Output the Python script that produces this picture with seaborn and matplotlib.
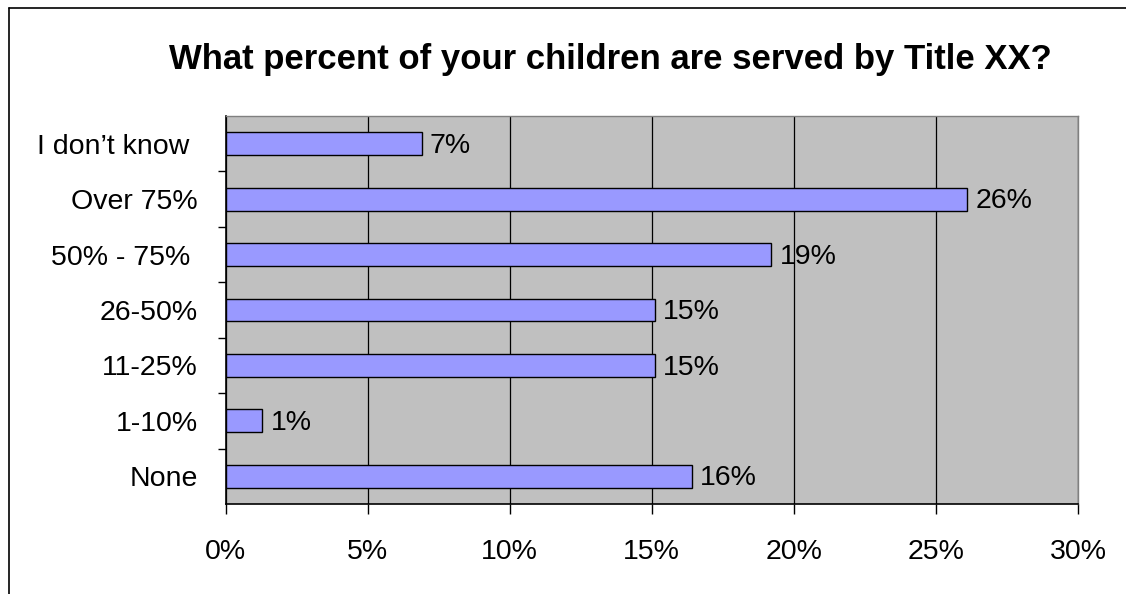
import matplotlib
matplotlib.use("Agg")
import matplotlib.pyplot as plt
from matplotlib.lines import Line2D
from matplotlib.ticker import FixedLocator, FuncFormatter
import seaborn as sns
import pandas as pd

categories = ["I don\u2019t know ", "Over 75%", "50% - 75% ", "26-50%", "11-25%", "1-10%", "None"]
values = [6.9, 26.1, 19.2, 15.1, 15.1, 1.3, 16.4]
value_labels = ["7%", "26%", "19%", "15%", "15%", "1%", "16%"]
x_ticks = [0, 5, 10, 15, 20, 25, 30]
title = "What percent of your children are served by Title XX?"

sns.set_theme(style="white")
plt.rcParams["font.family"] = ["Liberation Sans", "DejaVu Sans"]

df = pd.DataFrame({"category": categories, "value": values})

fig = plt.figure(figsize=(11.26, 5.94), dpi=100)
ax = fig.add_axes([225.5 / 1126, 1 - 504 / 594, (1078 - 225.5) / 1126, (504 - 116) / 594])
ax.set_facecolor("#C0C0C0")

sns.barplot(data=df, x="value", y="category", order=categories, orient="h",
            color="#9999FF", saturation=1, width=0.41, edgecolor="black",
            linewidth=1.0, ax=ax, zorder=3)

ax.set_xlim(0, 30)
ax.set_ylim(len(categories) - 0.5, -0.5)
ax.xaxis.set_major_locator(FixedLocator(x_ticks))
ax.xaxis.set_major_formatter(FuncFormatter(lambda v, p: f"{int(round(v))}%"))
ax.grid(axis="x", color="black", linewidth=0.9, zorder=1)
ax.grid(axis="y", visible=False)
ax.set_axisbelow(True)

# y: boundary tick marks, labels at category centers
ax.yaxis.set_major_locator(FixedLocator([i + 0.5 for i in range(len(categories) - 1)]))
ax.yaxis.set_major_formatter(FuncFormatter(lambda v, p: ""))
ax.set_yticks(list(range(len(categories))), labels=categories, minor=True)
ax.tick_params(axis="y", which="major", length=6, width=1, color="black", direction="out", left=True)
ax.tick_params(axis="y", which="minor", length=0, pad=20, labelsize=20.5, labelcolor="black", left=True)
ax.tick_params(axis="x", which="major", length=7, width=1, color="black", direction="out",
               bottom=True, pad=18.5, labelsize=20.5, labelcolor="black")

ax.set_xlabel("")
ax.set_ylabel("")

for s in ["left", "bottom"]:
    ax.spines[s].set_color("black")
    ax.spines[s].set_linewidth(1.2)
for s in ["top", "right"]:
    ax.spines[s].set_color("#808080")
    ax.spines[s].set_linewidth(1.0)

for i, (v, lab) in enumerate(zip(values, value_labels)):
    ax.annotate(lab, xy=(v, i), xytext=(6, -1.5), textcoords="offset points",
                va="center", ha="left", fontsize=20.5, color="black", zorder=4)

fig.text(610 / 1126, 1 - 59 / 594, title, ha="center", va="center",
         fontsize=25, fontweight="bold", color="black")

# chart border (cropped at right and bottom)
fig.add_artist(Line2D([8.5 / 1126, 8.5 / 1126], [0, 1 - 7.5 / 594], transform=fig.transFigure,
                      color="black", linewidth=1.2))
fig.add_artist(Line2D([8.5 / 1126, 1], [1 - 7.5 / 594, 1 - 7.5 / 594], transform=fig.transFigure,
                      color="black", linewidth=1.2))

fig.savefig("out.png", dpi=100, facecolor="white")
